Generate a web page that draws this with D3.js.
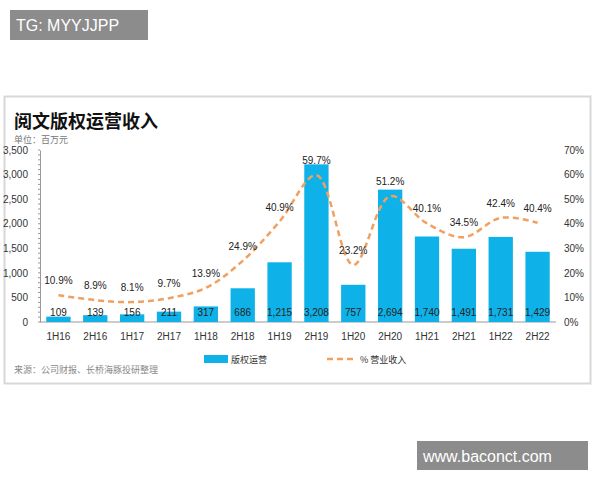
<!DOCTYPE html><html><head><meta charset="utf-8"><script src="https://cdn.jsdelivr.net/npm/d3@7"></script>
<style>body{margin:0;background:#fff;font-family:"Noto Sans CJK SC","Noto Sans",sans-serif}</style></head><body><svg id="c" width="600" height="480"></svg>
<script>
const categories=["1H16","2H16","1H17","2H17","1H18","2H18","1H19","2H19","1H20","2H20","1H21","2H21","1H22","2H22"];
const revenue=[109,139,156,211,317,686,1215,3208,757,2694,1740,1491,1731,1429];
const pct=[10.9,8.9,8.1,9.7,13.9,24.9,40.9,59.7,23.2,51.2,40.1,34.5,42.4,40.4];
const leftTicks=[0,500,1000,1500,2000,2500,3000,3500];
const rightTicks=[0,10,20,30,40,50,60,70];
const svg=d3.select("#c");
const F="'Noto Sans CJK SC',sans-serif";
svg.append("rect").attr("x",10).attr("y",10).attr("width",138).attr("height",30).attr("fill","#8c8c8c");
svg.append("text").attr("x",16).attr("y",31).attr("fill","#fff").attr("font-size",16).attr("font-family","Arial,'Liberation Sans'").text("TG: MYYJJPP");
svg.append("rect").attr("x",4.5).attr("y",96.5).attr("width",586).attr("height",287).attr("fill","#fff").attr("stroke","#d8d8d8").attr("stroke-width",2);
svg.append("text").attr("x",14).attr("y",128).attr("font-size",18).attr("font-weight","bold").attr("font-family",F).attr("fill","#111").text("阅文版权运营收入");
svg.append("text").attr("x",14).attr("y",143).attr("font-size",9).attr("font-family",F).attr("fill","#777").text("单位：百万元");
const L=40,R=556,T=150,B=322;
const x=d3.scaleBand().domain(categories).range([L,R]).paddingInner(0.34).paddingOuter(0.17);
const y=d3.scaleLinear().domain([0,3500]).range([B,T]);
const y2=d3.scaleLinear().domain([0,70]).range([B,T]);
const ax=svg.append("g").attr("transform",`translate(${L},0)`).call(d3.axisLeft(y).tickValues(leftTicks).tickFormat(d3.format(",")).tickSize(0).tickPadding(12));
ax.select(".domain").attr("stroke","#999");
ax.selectAll("text").attr("font-size",10).attr("fill","#333").attr("font-family","Arial,'Liberation Sans'");
svg.append("g").selectAll("line").data(d3.range(0,3501,100)).join("line").attr("x1",L-2).attr("x2",L).attr("y1",d=>y(d)).attr("y2",d=>y(d)).attr("stroke","#999");
const ar=svg.append("g").attr("transform",`translate(${R},0)`).call(d3.axisRight(y2).tickValues(rightTicks).tickFormat(d=>d+"%").tickSize(0).tickPadding(8));
ar.select(".domain").remove();
ar.selectAll("text").attr("font-size",10).attr("fill","#333").attr("font-family","Arial,'Liberation Sans'");
svg.append("line").attr("x1",L).attr("x2",R).attr("y1",B).attr("y2",B).attr("stroke","#999");
svg.append("g").selectAll("rect").data(revenue).join("rect").attr("x",(d,i)=>x(categories[i])).attr("width",x.bandwidth()).attr("y",d=>y(d)).attr("height",d=>B-y(d)).attr("fill","#0fb2e8");
svg.append("g").selectAll("text").data(revenue).join("text").attr("x",(d,i)=>x(categories[i])+x.bandwidth()/2).attr("y",B-6).attr("text-anchor","middle").attr("font-size",10).attr("font-family","Arial,'Liberation Sans'").attr("fill","#222").text(d3.format(","));
svg.append("g").selectAll("text").data(categories).join("text").attr("x",d=>x(d)+x.bandwidth()/2).attr("y",B+18).attr("text-anchor","middle").attr("font-size",10).attr("font-family","Arial,'Liberation Sans'").attr("fill","#333").text(d=>d);
const line=d3.line().x((d,i)=>x(categories[i])+x.bandwidth()/2).y(d=>y2(d)).curve(d3.curveCatmullRom.alpha(0.5));
svg.append("path").datum(pct).attr("d",line).attr("fill","none").attr("stroke","#f0a060").attr("stroke-width",2.5).attr("stroke-dasharray","6,4");
svg.append("g").selectAll("text").data(pct).join("text").attr("x",(d,i)=>x(categories[i])+x.bandwidth()/2).attr("y",d=>y2(d)-11).attr("text-anchor","middle").attr("font-size",10).attr("font-family","Arial,'Liberation Sans'").attr("fill","#222").text(d=>d.toFixed(1)+"%");
svg.append("rect").attr("x",204).attr("y",355).attr("width",24).attr("height",8).attr("fill","#0fb2e8");
svg.append("text").attr("x",231).attr("y",363).attr("font-size",9).attr("font-family",F).attr("fill","#333").text("版权运营");
svg.append("line").attr("x1",327).attr("x2",355).attr("y1",359).attr("y2",359).attr("stroke","#f0a060").attr("stroke-width",2.5).attr("stroke-dasharray","6,4");
svg.append("text").attr("x",360).attr("y",363).attr("font-size",9).attr("font-family",F).attr("fill","#333").text("% 营业收入");
svg.append("text").attr("x",14).attr("y",373).attr("font-size",9).attr("font-family",F).attr("fill","#888").text("来源：公司财报、长桥海豚投研整理");
svg.append("rect").attr("x",417).attr("y",441).attr("width",171).attr("height",29).attr("fill","#8c8c8c");
svg.append("text").attr("x",423).attr("y",462).attr("fill","#fff").attr("font-size",16).attr("font-family","Arial,'Liberation Sans'").text("www.baconct.com");
</script></body></html>
